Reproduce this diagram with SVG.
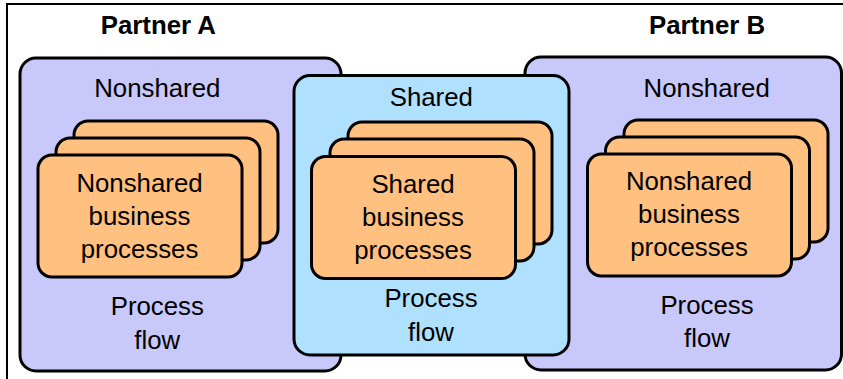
<svg xmlns="http://www.w3.org/2000/svg" width="843" height="379" viewBox="0 0 843 379">
<style>
.frame{fill:none;stroke:#000;stroke-width:2}
.party{fill:#C8C8FA;stroke:#000;stroke-width:3}
.shared{fill:#AFE0FE;stroke:#000;stroke-width:3}
.card{fill:#FFC080;stroke:#000;stroke-width:3}
text{font-family:"Liberation Sans",Arial,sans-serif;font-size:25.8px;fill:#000;text-anchor:middle}
.title{font-weight:bold}
</style>
<rect width="843" height="379" fill="#fff"/>
<path class="frame" d="M7,379 V4 H843"/>
<g id="partnerA">
  <text class="title" x="158.3" y="34">Partner A</text>
</g>
<g id="partnerB">
  <text class="title" x="707" y="34">Partner B</text>
</g>
<g id="nonsharedA">
  <rect class="party" x="20" y="58" width="321" height="313" rx="16"/>
  <text x="157.3" y="96.5">Nonshared</text>
  <text x="157.3" y="315">Process</text>
  <text x="157.3" y="349">flow</text>
</g>
<g id="nonsharedB">
  <rect class="party" x="525" y="57" width="316.5" height="313" rx="16"/>
  <text x="706.7" y="96.5">Nonshared</text>
  <text x="707" y="313.5">Process</text>
  <text x="707" y="347">flow</text>
</g>
<g id="shared">
  <rect class="shared" x="294" y="75.5" width="275" height="279.5" rx="16"/>
  <text x="431.3" y="106">Shared</text>
  <text x="431" y="307">Process</text>
  <text x="431" y="341">flow</text>
</g>
<g id="cardsA">
  <rect class="card" x="74" y="121" width="204" height="122" rx="14"/>
  <rect class="card" x="56" y="138" width="204" height="122" rx="14"/>
  <rect class="card" x="38" y="155" width="204" height="122" rx="14"/>
  <text x="139.5" y="191.5">Nonshared</text>
  <text x="139.5" y="224.5">business</text>
  <text x="139.5" y="257.5">processes</text>
</g>
<g id="cardsShared">
  <rect class="card" x="348" y="122" width="204" height="122" rx="14"/>
  <rect class="card" x="330" y="139" width="204" height="122" rx="14"/>
  <rect class="card" x="311.5" y="156.5" width="204" height="122" rx="14"/>
  <text x="413" y="192.5">Shared</text>
  <text x="413" y="226">business</text>
  <text x="413" y="259">processes</text>
</g>
<g id="cardsB">
  <rect class="card" x="624" y="120" width="204" height="122" rx="14"/>
  <rect class="card" x="605.5" y="137" width="204" height="122" rx="14"/>
  <rect class="card" x="587.5" y="154" width="204" height="122" rx="14"/>
  <text x="689" y="190">Nonshared</text>
  <text x="689" y="223">business</text>
  <text x="689" y="256">processes</text>
</g>
<g id="connectors"/>
</svg>
